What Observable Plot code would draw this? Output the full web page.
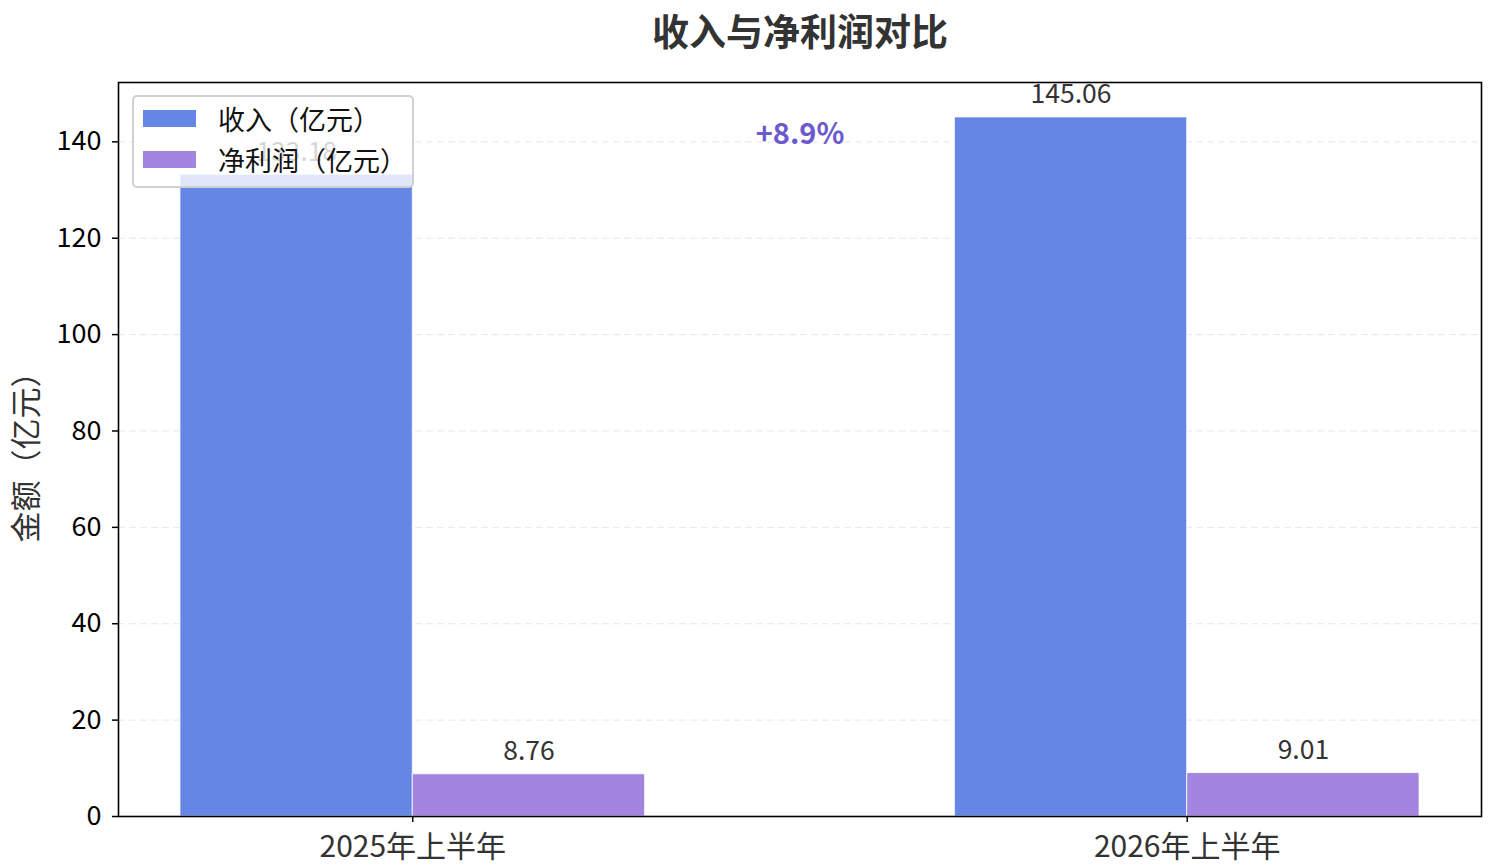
<!DOCTYPE html>
<html><head><meta charset="utf-8">
<script src="https://cdn.jsdelivr.net/npm/d3@7"></script>
<script src="https://cdn.jsdelivr.net/npm/@observablehq/plot@0.6"></script>
<style>
body{margin:0;background:#fff;font-family:"Noto Sans CJK SC","Noto Sans",sans-serif;}
#wrap{position:relative;width:1488px;height:868px;overflow:hidden;}
#title{position:absolute;left:400px;top:0;width:800px;height:60px;text-align:center;font-size:37px;font-weight:bold;color:#333;line-height:60px;}
#chart{position:absolute;left:0;top:60px;}
#legend{position:absolute;left:132px;top:95px;width:278px;height:89px;background:rgba(255,255,255,0.8);border:2px solid #d0d0d0;border-radius:5px;}
.item{position:absolute;left:9px;height:30px;display:flex;align-items:center;font-size:27px;color:#111;}
.sw{width:53px;height:17px;margin-right:22px;}
</style></head>
<body>
<div id="wrap">
<div id="title"></div>
<div id="chart"></div>
<div id="legend"></div>
</div>
<script>
const titleText = "收入与净利润对比";
const periods = ["2025年上半年", "2026年上半年"];
const revenue = [133.18, 145.06];
const profit = [8.76, 9.01];
const seriesNames = ["收入（亿元）", "净利润（亿元）"];
const seriesColors = ["#6686e6", "#a385e0"];
const growthLabel = "+8.9%";
const yTicks = [0, 20, 40, 60, 80, 100, 120, 140];
const yLabel = "金额（亿元）";
const barWidth = 0.3;

document.getElementById("title").textContent = titleText;

const revRows = periods.map((p, i) => ({i, x1: i - barWidth, x2: i, xm: i - barWidth / 2, v: revenue[i]}));
const proRows = periods.map((p, i) => ({i, x1: i, x2: i + barWidth, xm: i + barWidth / 2, v: profit[i]}));
const yMax = Math.max(...revenue) * 1.05;

const plot = Plot.plot({
  width: 1488,
  height: 808,
  marginTop: 22,
  marginBottom: 52,
  marginLeft: 118,
  marginRight: 7,
  style: {fontFamily: '"Noto Sans CJK SC","Noto Sans",sans-serif', color: "#000", background: "#fff"},
  x: {type: "linear", domain: [-0.38, 1.38]},
  y: {domain: [0, yMax]},
  marks: [
    Plot.gridY(yTicks, {stroke: "#ccc", strokeOpacity: 0.45, strokeDasharray: "7,4"}),
    Plot.rectY(revRows, {x1: "x1", x2: "x2", y: "v", fill: seriesColors[0], stroke: "white", strokeWidth: 1, strokeOpacity: 0.8}),
    Plot.rectY(proRows, {x1: "x1", x2: "x2", y: "v", fill: seriesColors[1], stroke: "white", strokeWidth: 1, strokeOpacity: 0.8}),
    Plot.text(revRows, {x: "xm", y: "v", text: d => d.v.toFixed(2), dy: -14, lineAnchor: "bottom", fontSize: 26.5, fill: "#333"}),
    Plot.text(proRows, {x: "xm", y: "v", text: d => d.v.toFixed(2), dy: -14, lineAnchor: "bottom", fontSize: 26.5, fill: "#333"}),
    Plot.text([growthLabel], {x: 0.5, y: Math.max(...revenue) * 0.975, text: d => d, fontSize: 29, fontWeight: "bold", fill: "#6a5acd"}),
    Plot.axisY({ticks: yTicks, tickSize: 6, tickPadding: 11, fontSize: 27, stroke: "black", strokeWidth: 1.5, label: null}),
    Plot.axisY({ticks: [], tickSize: 0, label: yLabel, labelAnchor: "center", labelArrow: "none", labelOffset: 104, fontSize: 31, fill: "#333"}),
    Plot.axisX({ticks: [0, 1], tickFormat: i => periods[i], tickSize: 6, tickPadding: 13, fontSize: 30, stroke: "black", strokeWidth: 1.5, fill: "#333", label: null}),
    Plot.frame({stroke: "black", strokeWidth: 1.6})
  ]
});
document.getElementById("chart").appendChild(plot);

const lg = document.getElementById("legend");
seriesNames.forEach((n, k) => {
  const it = document.createElement("div");
  it.className = "item";
  it.style.top = (6 + k * 41) + "px";
  const sw = document.createElement("div");
  sw.className = "sw";
  sw.style.background = seriesColors[k];
  const tx = document.createElement("span");
  tx.textContent = n;
  it.appendChild(sw); it.appendChild(tx);
  lg.appendChild(it);
});
</script>
</body></html>
